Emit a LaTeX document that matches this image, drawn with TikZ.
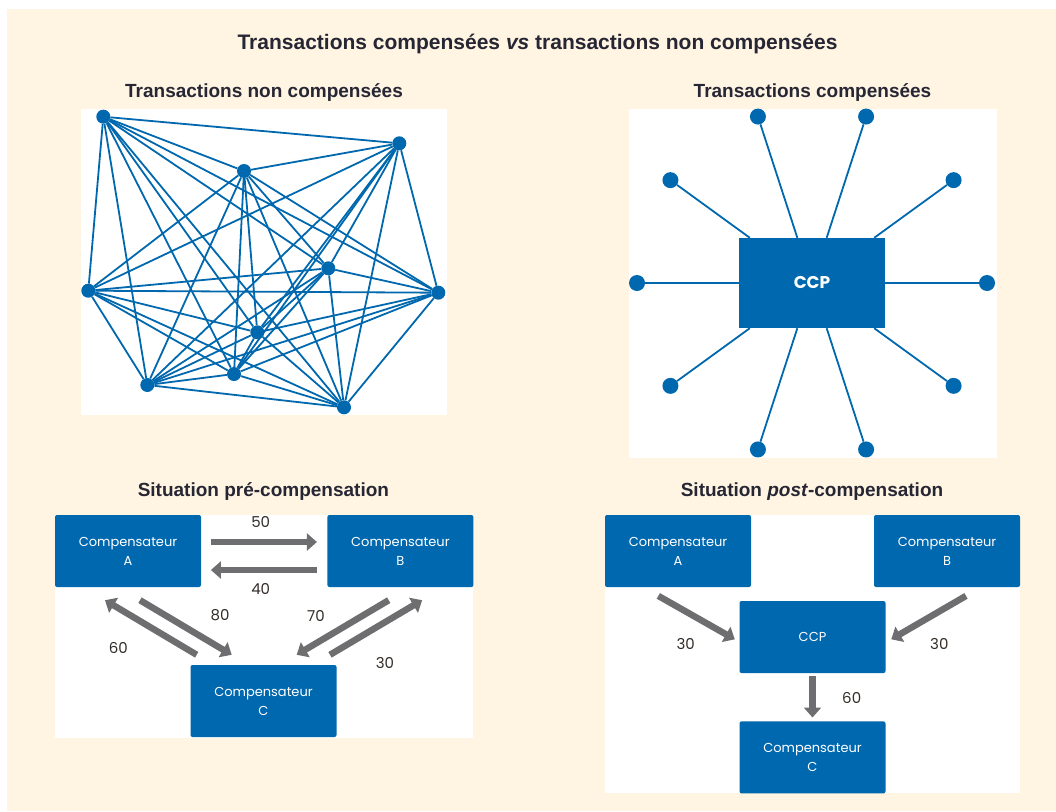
\documentclass[tikz,border=0pt]{standalone}
\usepackage{fontspec}
\setmainfont{Liberation Sans}
\newfontfamily\boxfont{Poppins}
\usetikzlibrary{arrows.meta,positioning}
\definecolor{ccpblue}{RGB}{0,104,174}
\definecolor{flowgray}{RGB}{110,110,112}
\definecolor{cream}{RGB}{255,245,226}
\definecolor{inkdark}{RGB}{38,38,52}
\definecolor{numdark}{RGB}{51,45,40}

\begin{document}
\begin{tikzpicture}[x=1pt,y=-1pt]
      \tikzset{
        heading/.style={font=\fontsize{19}{22}\selectfont\bfseries,text=inkdark,anchor=base,inner sep=0pt},
        dot/.style={circle,fill=ccpblue,inner sep=0pt,minimum size=14pt},
        link/.style={ccpblue,line width=1.8pt},
        compbox/.style={rectangle,rounded corners=2pt,fill=ccpblue,text=white,align=center,
          minimum width=146pt,minimum height=72pt,inner sep=0pt,
          font=\boxfont\fontsize{13}{19}\selectfont},
        flow/.style={flowgray,line width=6.5pt,-{Triangle[length=10pt,width=17pt]}},
        num/.style={font=\boxfont\fontsize{15}{15}\selectfont,text=numdark,inner sep=0pt}
      }

      \useasboundingbox (0,0) rectangle (1056,811);
      \fill[cream] (7,9) rectangle (1056,811);
      \fill[white] (81,109) rectangle (447,415);
      \fill[white] (629,109) rectangle (997,458);
      \fill[white] (55,515) rectangle (473,738);
      \fill[white] (605,515) rectangle (1020,793);

      % headings
      \node[heading,font=\fontsize{21}{24}\selectfont\bfseries] (title) at (537.5,49.5)
        {Transactions compensées \textit{vs} transactions non compensées};
      \node[heading] (hnon) at (264,97) {Transactions non compensées};
      \node[heading] (hcomp) at (812.5,97) {Transactions compensées};
      \node[heading] (hpre) at (263.4,496) {Situation pré-compensation};
      \node[heading] (hpost) at (812,496) {Situation \textit{post}-compensation};

      % non compensated: every pair linked
      \foreach \p [count=\i] in {(103.3,116.7),(399.3,143.3),(244,171),(328.3,268.3),(88.3,290.7),
                                 (438.3,292.7),(257.3,332.3),(234,374),(147.3,385),(344,407.3)}
        \node[dot] (n\i) at \p {};
      \foreach \i in {1,...,9}{
        \pgfmathtruncatemacro\k{\i+1}
        \foreach \j in {\k,...,10}
          \draw[link] (n\i) -- (n\j);
      }

      % compensated: star round the CCP
      \node[compbox,minimum height=90pt,rounded corners=0pt,
            font=\boxfont\bfseries\fontsize{17}{17}\selectfont] (ccp) at (812,283) {CCP};
      \foreach \a [count=\i] in {0,36,...,324}{
        \node[dot,minimum size=16pt] (s\i) at ([shift={(\a:175)}]ccp.center) {};
        \draw[link] (s\i) -- (ccp);
      }

      % pre-compensation
      \node[compbox] (preA) at (128,551) {Compensateur\\A};
      \node[compbox,right=126pt of preA] (preB) {Compensateur\\B};
      \node[compbox] (preC) at (263.5,701) {Compensateur\\C};

      \draw[flow] ([shift={(9.7,-9)}]preA.east) -- ([shift={(-10.3,-9)}]preB.west);
      \draw[flow] ([shift={(-10.3,19)}]preB.west) -- ([shift={(9.7,19)}]preA.east);
      \draw[flow] ([shift={(12,13)}]preA.south) -- ([shift={(-31.8,-10)}]preC.north);
      \draw[flow] ([shift={(-66.8,-10)}]preC.north) -- ([shift={(-23,13)}]preA.south);
      \draw[flow] ([shift={(-11.7,13)}]preB.south) -- ([shift={(33.2,-10)}]preC.north);
      \draw[flow] ([shift={(66.5,-10)}]preC.north) -- ([shift={(21.7,13)}]preB.south);

      \node[num] (v50) at (260.7,521.7) {50};
      \node[num] (v40) at (260.7,589.3) {40};
      \node[num] (v80) at (220,615) {80};
      \node[num] (v60) at (118.3,648.3) {60};
      \node[num] (v70) at (316,616) {70};
      \node[num] (v30) at (385,663.3) {30};

      % post-compensation
      \node[compbox] (postA) at (678,551) {Compensateur\\A};
      \node[compbox] (postB) at (947,551) {Compensateur\\B};
      \node[compbox] (postccp) at (812.5,637) {CCP};
      \node[compbox,below=48pt of postccp] (postC) {Compensateur\\C};

      \draw[flow] ([shift={(-19.7,8.7)}]postA.south) -- ([shift={(-4.5,2.3)}]postccp.west);
      \draw[flow] ([shift={(19,8.7)}]postB.south) -- ([shift={(5.5,2.3)}]postccp.east);
      \draw[flow] ([yshift=-3pt]postccp.south) -- ([yshift=3.7pt]postC.north);

      \node[num] (w30a) at (685.7,644) {30};
      \node[num] (w30b) at (939.3,644) {30};
      \node[num] (w60) at (851.7,697.7) {60};
\end{tikzpicture}
\end{document}
